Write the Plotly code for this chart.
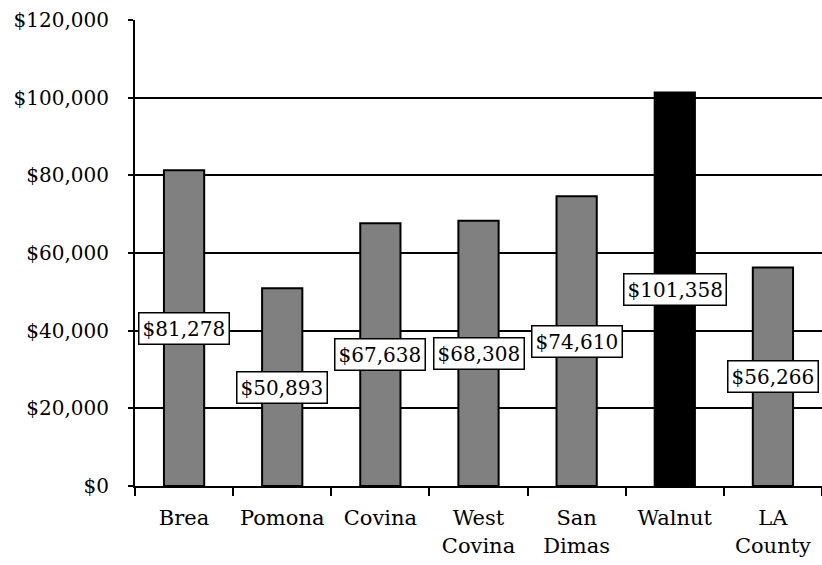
import plotly.graph_objects as go

categories = ["Brea", "Pomona", "Covina", "West<br>Covina", "San<br>Dimas", "Walnut", "LA<br>County"]
values = [81278, 50893, 67638, 68308, 74610, 101358, 56266]
colors = ["#808080", "#808080", "#808080", "#808080", "#808080", "#000000", "#808080"]
y_ticks = [0, 20000, 40000, 60000, 80000, 100000, 120000]
y_tick_labels = ["$0", "$20,000", "$40,000", "$60,000", "$80,000", "$100,000", "$120,000"]

FONT = "DejaVu Serif"

fig = go.Figure()
fig.add_trace(go.Bar(
    x=categories, y=values,
    marker=dict(color=colors, line=dict(color="black", width=2)),
    width=0.41,
))

for c, v in zip(categories, values):
    fig.add_annotation(
        x=c, y=v / 2, text="${:,}".format(v), showarrow=False,
        bgcolor="white", bordercolor="black", borderwidth=1.5, borderpad=3,
        font=dict(family=FONT, size=20, color="black"),
    )

fig.update_layout(
    width=822, height=565,
    margin=dict(l=135, r=0, t=20, b=79, autoexpand=False),
    paper_bgcolor="white", plot_bgcolor="white",
    showlegend=False,
    font=dict(family=FONT, size=20, color="black"),
    xaxis=dict(
        showline=True, linecolor="black", linewidth=2,
        ticks="outside", tickson="boundaries", ticklen=8, tickwidth=2, tickcolor="black",
        showgrid=False, ticklabelstandoff=12, tickangle=0, automargin=False,
        tickfont=dict(family=FONT, size=21, color="black"),
    ),
    yaxis=dict(
        range=[0, 120000], tickvals=y_ticks, ticktext=y_tick_labels,
        showline=True, linecolor="black", linewidth=2,
        ticks="outside", ticklen=5, tickwidth=2, tickcolor="black",
        showgrid=True, gridcolor="black", gridwidth=1.8,
        zeroline=False, ticklabelstandoff=15, automargin=False,
        tickfont=dict(family=FONT, size=20, color="black"),
    ),
)

fig.write_html("out.html")
